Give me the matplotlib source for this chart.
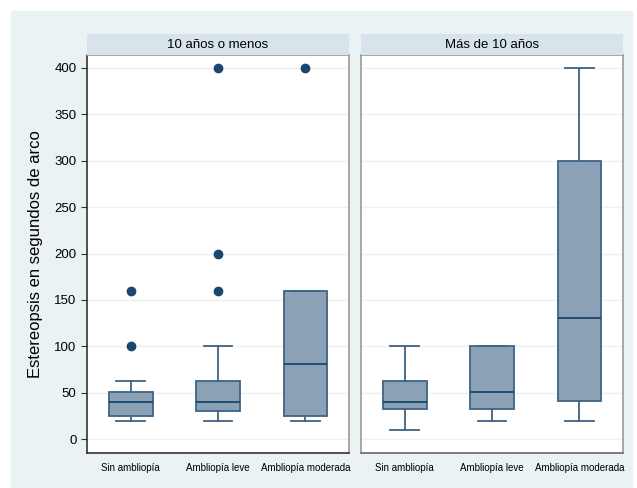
import matplotlib.pyplot as plt
from matplotlib.patches import Rectangle

plt.rcParams['font.family'] = ['Liberation Sans', 'DejaVu Sans']

# datos (estadísticos de cada caja)
grupos = ["10 años o menos", "Más de 10 años"]
categorias = ["Sin ambliopía", "Ambliopía leve", "Ambliopía moderada"]

# whislo, q1, mediana, q3, whishi, outliers
g1_whislo = [20, 20, 20]
g1_q1 = [25, 30, 25]
g1_med = [40, 40, 81]
g1_q3 = [51, 63, 160]
g1_whishi = [63, 100, 160]
g1_fliers = [[100, 160], [160, 200, 400], [400]]

g2_whislo = [10, 20, 20]
g2_q1 = [32, 32, 41]
g2_med = [40, 51, 131]
g2_q3 = [63, 100, 300]
g2_whishi = [100, 100, 400]
g2_fliers = [[], [], []]

yticks = [0, 50, 100, 150, 200, 250, 300, 350, 400]

bg = "#eaf2f3"
strip = "#d7e4eb"
fill = "#8ba1b5"
edge = "#3e6384"
dark = "#1a476f"


def stats(lo, q1, med, q3, hi, fl):
    out = []
    for i in range(len(lo)):
        out.append(dict(whislo=lo[i], q1=q1[i], med=med[i], q3=q3[i],
                        whishi=hi[i], fliers=fl[i], label=categorias[i]))
    return out


data = [stats(g1_whislo, g1_q1, g1_med, g1_q3, g1_whishi, g1_fliers),
        stats(g2_whislo, g2_q1, g2_med, g2_q3, g2_whishi, g2_fliers)]

W, H = 637, 488
fig = plt.figure(figsize=(W / 100, H / 100), dpi=100, facecolor="white")
fig.patches.append(Rectangle((11 / W, 0), (632 - 11) / W, 1 - 11 / H,
                             transform=fig.transFigure, color=bg, zorder=-10))

# posiciones en píxeles: (izq, der)
paneles = [(87, 349), (361, 623)]
top, bottom, strip_top = 55, 453, 34

for k, (x0, x1) in enumerate(paneles):
    ax = fig.add_axes([x0 / W, 1 - bottom / H, (x1 - x0) / W, (bottom - top) / H])
    ax.set_facecolor("white")
    ax.bxp(data[k], positions=[1, 2, 3], widths=0.5, patch_artist=True,
           capwidths=0.33,
           boxprops=dict(facecolor=fill, edgecolor=edge, linewidth=1.3),
           medianprops=dict(color=dark, linewidth=1.3),
           whiskerprops=dict(color=edge, linewidth=1.3),
           capprops=dict(color=edge, linewidth=1.3),
           flierprops=dict(marker="o", markerfacecolor=dark, markeredgecolor=dark,
                           markersize=6))
    ax.set_xlim(0.5, 3.5)
    ax.set_ylim(-15, 414)
    ax.set_yticks(yticks)
    ax.grid(axis="y", color=bg, linewidth=1)
    ax.set_axisbelow(True)
    ax.tick_params(axis="x", length=0, labelsize=7, pad=7)
    ax.set_xticks([1, 2, 3])
    ax.set_xticklabels(categorias)
    for s in ax.spines.values():
        s.set_color("#9a9a9a")
        s.set_linewidth(1.2)
    if k == 0:
        ax.spines["left"].set_color("#333333")
        ax.spines["bottom"].set_color("#333333")
        ax.tick_params(axis="y", labelsize=9.5, length=4, color="#333333")
        ax.set_ylabel("Estereopsis en segundos de arco", fontsize=12, labelpad=8)
    else:
        ax.spines["bottom"].set_color("#666666")
        ax.tick_params(axis="y", left=False, labelleft=False)

    # franja con el título del panel
    sax = fig.add_axes([x0 / W, 1 - top / H, (x1 - x0) / W, (top - strip_top) / H])
    sax.set_facecolor(strip)
    sax.set_xticks([])
    sax.set_yticks([])
    for s in sax.spines.values():
        s.set_visible(False)
    sax.text(0.5, 0.5, grupos[k], ha="center", va="center", fontsize=9.5,
             transform=sax.transAxes)

fig.savefig("out.png", dpi=100, facecolor="white")
